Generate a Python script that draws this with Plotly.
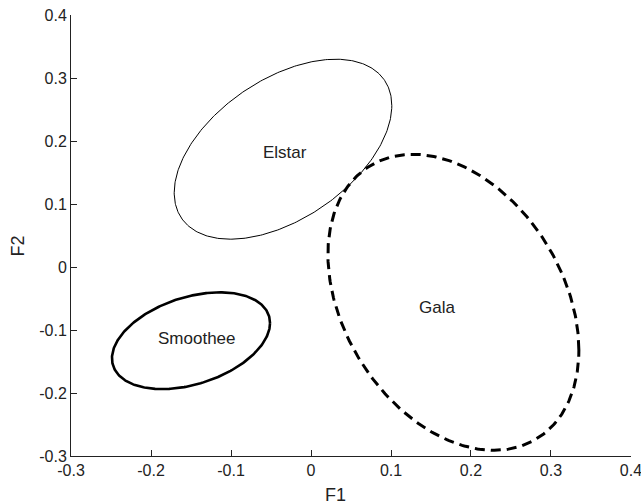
import numpy as np
import plotly.graph_objects as go

# Confidence ellipses of the three apple varieties in the F1/F2 plane
groups = ["Elstar", "Gala", "Smoothee"]
center_f1 = [-0.035, 0.178, -0.150]
center_f2 = [0.187, -0.056, -0.117]
var_f1 = [0.0185, 0.0246, 0.00976]
var_f2 = [0.0204, 0.0552, 0.0059]
cov_f12 = [0.0094, -0.0119, 0.00277]
label_f1 = [-0.0325, 0.158, -0.143]
label_f2 = [0.1825, -0.0635, -0.114]

tick_vals = [-0.3, -0.2, -0.1, 0, 0.1, 0.2, 0.3, 0.4]
tick_text = ["-0.3", "-0.2", "-0.1", "0", "0.1", "0.2", "0.3", "0.4"]

line_styles = {
    "Elstar": dict(width=1, dash="solid"),
    "Gala": dict(width=3, dash="10px,6px"),
    "Smoothee": dict(width=2.6, dash="solid"),
}

FONT = "Liberation Sans, Arial, sans-serif"
INK = "#222"
fig = go.Figure()

t = np.linspace(0, 2 * np.pi, 361)
circle = np.vstack([np.cos(t), np.sin(t)])
for i, g in enumerate(groups):
    cov = np.array([[var_f1[i], cov_f12[i]], [cov_f12[i], var_f2[i]]])
    L = np.linalg.cholesky(cov)
    pts = L @ circle
    fig.add_trace(go.Scatter(
        x=center_f1[i] + pts[0], y=center_f2[i] + pts[1],
        mode="lines", line=dict(color="black", **line_styles[g]),
        showlegend=False, hoverinfo="skip"))
    fig.add_annotation(x=label_f1[i], y=label_f2[i], text=g, showarrow=False,
                       font=dict(family=FONT, size=17, color=INK))

# axis titles
fig.add_annotation(xref="paper", yref="paper", x=0.473, y=-0.088, text="F1",
                   xanchor="center", yanchor="middle", showarrow=False,
                   font=dict(family=FONT, size=18, color=INK))
fig.add_annotation(xref="paper", yref="paper", x=-0.094, y=0.476, text="F2",
                   xanchor="center", yanchor="middle", textangle=-90,
                   showarrow=False, font=dict(family=FONT, size=18, color=INK))

axis_common = dict(
    tickmode="array", tickvals=tick_vals, ticktext=tick_text,
    ticks="inside", ticklen=6, tickcolor=INK, tickwidth=1,
    showline=True, linecolor=INK, linewidth=1, mirror=False,
    showgrid=False, zeroline=False, ticklabeloverflow="allow",
    automargin=False,
    tickfont=dict(family=FONT, size=16, color=INK),
)
fig.update_xaxes(range=[-0.3, 0.40001], **axis_common)
fig.update_yaxes(range=[-0.3, 0.40001], **axis_common)

fig.update_layout(
    width=641, height=504,
    margin=dict(l=71, r=10, t=15, b=48, autoexpand=False),
    plot_bgcolor="white", paper_bgcolor="white",
)
fig.write_html("out.html")
